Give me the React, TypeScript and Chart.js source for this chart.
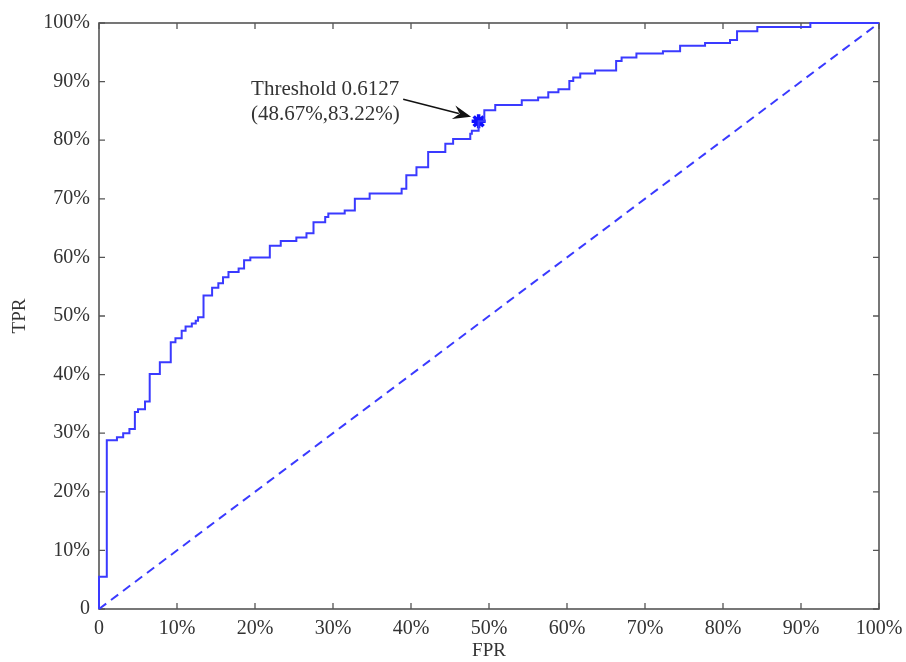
import React, { useEffect, useRef } from "react";
import { Chart, registerables } from "chart.js";

Chart.register(...registerables);

// ROC curve corner points (FPR %, TPR %) — vertical steps at each FPR
const rocFpr = [0, 0, 1.0, 2.3, 3.1, 3.9, 4.6, 5.0, 5.9, 6.5, 7.8, 9.2, 9.8, 10.6, 11.1, 11.9, 12.4, 12.7, 13.4, 14.5, 15.3, 15.9, 16.6, 17.9, 18.6, 19.4, 21.9, 23.3, 25.3, 26.6, 27.5, 29.0, 29.4, 31.5, 32.8, 34.7, 38.8, 39.4, 40.7, 42.2, 44.4, 45.4, 47.6, 47.8, 48.67, 49.4, 50.8, 54.2, 56.3, 57.6, 58.9, 60.3, 60.8, 61.7, 63.6, 66.3, 67.0, 68.9, 72.3, 74.5, 77.7, 80.9, 81.8, 84.4, 91.2, 100];
const rocTpr = [0, 5.5, 28.8, 29.3, 30.0, 30.7, 33.6, 34.1, 35.4, 40.1, 42.1, 45.5, 46.2, 47.5, 48.2, 48.7, 49.2, 49.8, 53.5, 54.8, 55.6, 56.6, 57.5, 58.1, 59.5, 60.0, 62.0, 62.8, 63.4, 64.1, 66.0, 66.9, 67.5, 68.0, 70.0, 70.9, 71.7, 74.0, 75.4, 78.0, 79.4, 80.2, 81.1, 81.6, 83.22, 85.1, 86.0, 86.8, 87.3, 88.2, 88.7, 90.1, 90.7, 91.4, 91.9, 93.5, 94.1, 94.8, 95.2, 96.1, 96.6, 97.1, 98.6, 99.3, 100, 100];

const diagFpr = [0, 100];
const diagTpr = [0, 100];

const thresholdFpr = 48.67;
const thresholdTpr = 83.22;
const annotationLines = ["Threshold 0.6127", "(48.67%,83.22%)"];

const tickValues = [0, 10, 20, 30, 40, 50, 60, 70, 80, 90, 100];
const tickLabel = (v: number) => (v === 0 ? "0" : v + "%");

const BLUE = "#3a3aff";
const SERIF = "'Liberation Serif', 'Times New Roman', serif";

const boxPlugin = {
  id: "matlabBox",
  beforeDatasetsDraw(chart: any) {
    const { ctx, chartArea: a, scales } = chart;
    const xs = scales.x;
    const ys = scales.y;
    ctx.save();
    ctx.strokeStyle = "#555555";
    ctx.lineWidth = 1.6;
    ctx.strokeRect(a.left, a.top, a.right - a.left, a.bottom - a.top);
    const tl = 6;
    ctx.lineWidth = 1.3;
    ctx.beginPath();
    tickValues.forEach((v) => {
      const px = xs.getPixelForValue(v);
      ctx.moveTo(px, a.bottom);
      ctx.lineTo(px, a.bottom - tl);
      ctx.moveTo(px, a.top);
      ctx.lineTo(px, a.top + tl);
      const py = ys.getPixelForValue(v);
      ctx.moveTo(a.left, py);
      ctx.lineTo(a.left + tl, py);
      ctx.moveTo(a.right, py);
      ctx.lineTo(a.right - tl, py);
    });
    ctx.stroke();
    ctx.restore();
  },
  afterDraw(chart: any) {
    const { ctx, scales } = chart;
    const xs = scales.x;
    const ys = scales.y;
    ctx.save();
    ctx.fillStyle = "#333333";
    ctx.font = "21px " + SERIF;
    ctx.textBaseline = "middle";
    ctx.textAlign = "left";
    const tx = xs.getPixelForValue(19.5);
    ctx.fillText(annotationLines[0], tx, ys.getPixelForValue(88.7));
    ctx.fillText(annotationLines[1], tx, ys.getPixelForValue(84.4));

    const x1 = xs.getPixelForValue(39.0);
    const y1 = ys.getPixelForValue(87.0);
    const x2 = xs.getPixelForValue(47.7);
    const y2 = ys.getPixelForValue(84.0);
    const ang = Math.atan2(y2 - y1, x2 - x1);
    const hl = 18;
    const hw = 7;
    ctx.strokeStyle = "#111111";
    ctx.fillStyle = "#111111";
    ctx.lineWidth = 1.5;
    ctx.beginPath();
    ctx.moveTo(x1, y1);
    ctx.lineTo(x2 - hl * 0.7 * Math.cos(ang), y2 - hl * 0.7 * Math.sin(ang));
    ctx.stroke();
    const bx = x2 - hl * Math.cos(ang);
    const by = y2 - hl * Math.sin(ang);
    const mx = x2 - hl * 0.65 * Math.cos(ang);
    const my = y2 - hl * 0.65 * Math.sin(ang);
    ctx.beginPath();
    ctx.moveTo(x2, y2);
    ctx.lineTo(bx + hw * Math.sin(ang), by - hw * Math.cos(ang));
    ctx.lineTo(mx, my);
    ctx.lineTo(bx - hw * Math.sin(ang), by + hw * Math.cos(ang));
    ctx.closePath();
    ctx.fill();
    ctx.restore();
  },
};

export default function App() {
  const ref = useRef<HTMLCanvasElement>(null);

  useEffect(() => {
    document.body.style.margin = "0";
    const canvas = ref.current;
    if (!canvas) return;
    const chart = new Chart(canvas, {
      type: "line",
      data: {
        datasets: [
          {
            label: "ROC",
            data: rocFpr.map((x, i) => ({ x, y: rocTpr[i] })),
            borderColor: BLUE,
            borderWidth: 2,
            pointRadius: 0,
            stepped: "before",
            fill: false,
            clip: false,
          },
          {
            label: "Random",
            data: diagFpr.map((x, i) => ({ x, y: diagTpr[i] })),
            borderColor: BLUE,
            borderWidth: 2,
            borderDash: [9, 6],
            pointRadius: 0,
            fill: false,
            clip: false,
          },
          {
            label: "Threshold",
            data: [{ x: thresholdFpr, y: thresholdTpr }],
            showLine: false,
            pointStyle: "star",
            pointRadius: 7,
            pointBorderWidth: 3.5,
            pointBorderColor: "#1010ff",
            pointBackgroundColor: "#1010ff",
          },
          {
            label: "ThresholdDot",
            data: [{ x: thresholdFpr, y: thresholdTpr }],
            showLine: false,
            pointStyle: "circle",
            pointRadius: 4.5,
            pointBorderWidth: 0,
            pointBackgroundColor: "#1010ff",
          },
        ],
      },
      options: {
        responsive: false,
        animation: false,
        layout: { padding: { top: 23, right: 27, left: 0, bottom: 0 } },
        plugins: {
          legend: { display: false },
          tooltip: { enabled: false },
        },
        scales: {
          x: {
            type: "linear",
            min: 0,
            max: 100,
            afterFit: (s: any) => {
              s.height = 53;
              s.paddingLeft = 0;
              s.paddingRight = 0;
            },
            afterBuildTicks: (s: any) => {
              s.ticks = tickValues.map((v) => ({ value: v }));
            },
            grid: { display: false, drawTicks: false },
            border: { display: false },
            ticks: {
              padding: 8,
              color: "#333333",
              font: { family: SERIF, size: 20 },
              callback: (v: any) => tickLabel(Number(v)),
              maxRotation: 0,
              autoSkip: false,
            },
            title: {
              display: true,
              text: "FPR",
              color: "#333333",
              font: { family: SERIF, size: 19 },
              padding: { top: 0, bottom: 0 },
            },
          },
          y: {
            type: "linear",
            min: 0,
            max: 100,
            afterFit: (s: any) => {
              s.width = 99;
              s.paddingTop = 0;
              s.paddingBottom = 0;
            },
            afterBuildTicks: (s: any) => {
              s.ticks = tickValues.map((v) => ({ value: v }));
            },
            grid: { display: false, drawTicks: false },
            border: { display: false },
            ticks: {
              padding: 9,
              color: "#333333",
              font: { family: SERIF, size: 20 },
              callback: (v: any) => tickLabel(Number(v)),
              autoSkip: false,
            },
            title: {
              display: true,
              text: "TPR",
              color: "#333333",
              font: { family: SERIF, size: 19 },
              padding: { top: 9, bottom: 0 },
            },
          },
        },
      },
      plugins: [boxPlugin],
    });
    return () => chart.destroy();
  }, []);

  return (
    <div style={{ width: 906, height: 662, background: "#ffffff" }}>
      <canvas ref={ref} width={906} height={662} />
    </div>
  );
}
